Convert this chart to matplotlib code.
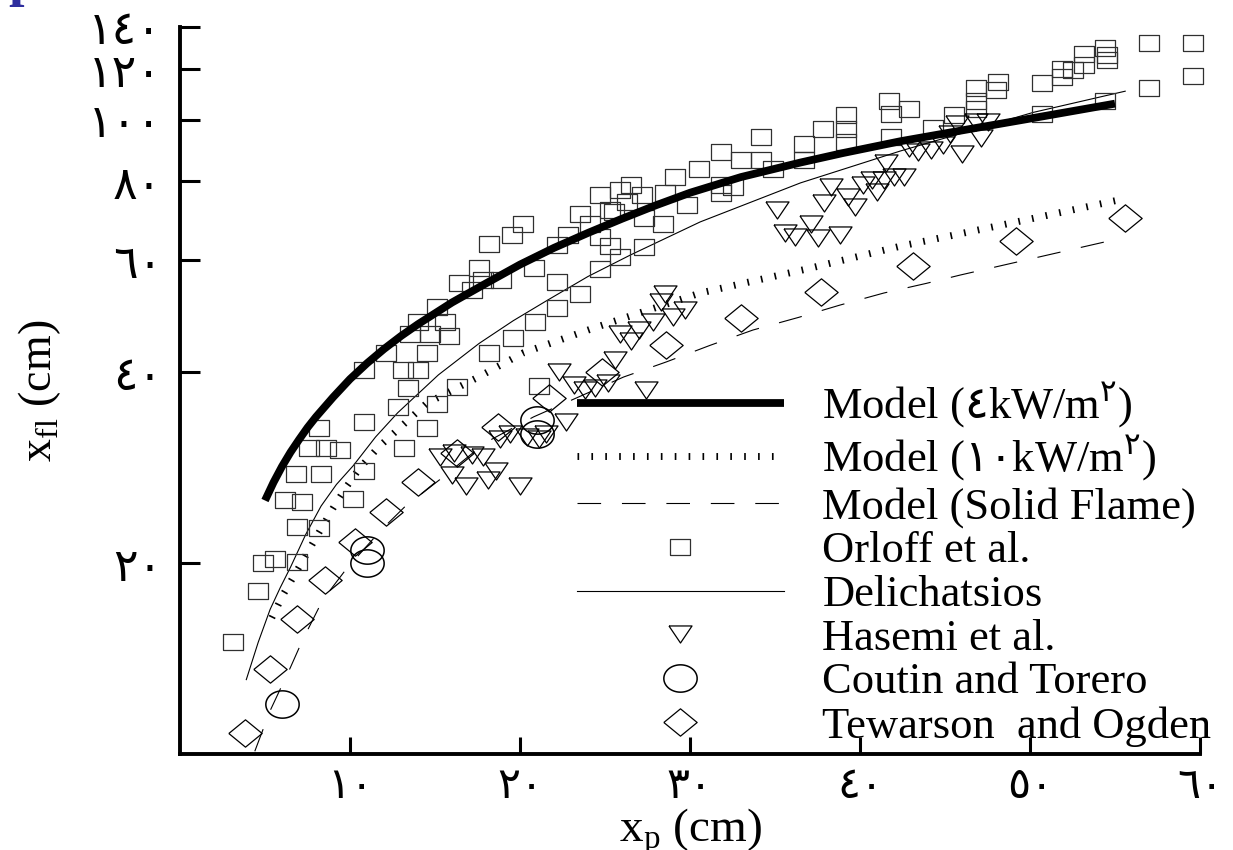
import numpy as np
import matplotlib
matplotlib.use("Agg")
import matplotlib.pyplot as plt
from matplotlib.ticker import NullLocator, FixedLocator, FixedFormatter
from matplotlib.font_manager import FontProperties

plt.rcParams['mathtext.fontset'] = 'dejavusans'
plt.rcParams['lines.scale_dashes'] = False

SERIF = ['Liberation Serif', 'DejaVu Sans']

# ---------------- data ----------------
x_ticks = [10, 20, 30, 40, 50, 60]
x_ticklabels = ['١٠', '٢٠', '٣٠', '٤٠', '٥٠', '٦٠']
y_ticks = [20, 40, 60, 80, 100, 120, 140]
y_ticklabels = ['٢٠', '٤٠', '٦٠', '٨٠', '١٠٠', '١٢٠', '١٤٠']

# Model (4 kW/m2)
model4_x = [5.0, 5.5, 6.0, 6.5, 7.0, 7.5, 8.0, 9.0, 10.0, 11.0, 12.0, 13.0, 14.0, 16.0, 18.0,
            20.0, 22.0, 24.0, 26.0, 28.0, 30.0, 33.0, 36.5, 39.0, 42.4, 46.3, 50.0, 55.0]
model4_y = [25.1, 26.8, 28.4, 29.9, 31.3, 32.7, 34.0, 36.5, 39.0, 41.3, 43.5, 45.6, 47.6, 51.5, 55.2,
            59.1, 62.8, 66.3, 69.8, 73.3, 76.7, 81.2, 85.6, 88.6, 92.5, 96.5, 100.4, 106.0]

# Model (10 kW/m2)
model10_x = [5.4, 6.1, 7.9, 9.0, 9.8, 10.6, 11.7, 14.5, 17.4, 20.2, 24.4, 30.6, 36.8, 42.4, 45.2, 50.2, 55.2]
model10_y = [16.4, 17.9, 21.7, 24.4, 26.4, 28.3, 30.5, 35.7, 39.1, 42.9, 47.0, 53.3, 58.1, 63.2, 65.5, 69.9, 74.7]

# Model (Solid Flame)
flame_x = [4.4, 5.3, 6.5, 7.2, 8.4, 9.8, 11.8, 13.2, 15.3, 18.0, 20.8, 23.4, 26.1, 28.6, 31.2, 33.7, 36.4, 38.8, 41.4, 43.9, 45.9, 55.1]
flame_y = [10.1, 11.7, 13.7, 15.1, 17.5, 19.6, 22.5, 24.5, 27.1, 31.0, 34.0, 36.5, 39.3, 41.5, 44.1, 46.6, 48.8, 51.0, 53.3, 55.2, 56.9, 64.8]

# Delichatsios
delich_x = [3.9, 4.6, 5.3, 5.9, 6.5, 7.4, 8.3, 9.2, 10.2, 11.5, 12.8, 15.2, 17.6, 19.6, 21.6, 24.0,
            26.5, 30.6, 36.5, 42.4, 50.2, 55.6]
delich_y = [13.1, 15.0, 16.9, 18.3, 19.7, 22.2, 24.6, 26.6, 28.5, 31.6, 34.5, 39.6, 44.4, 48.2, 51.9, 56.6,
            61.2, 69.0, 79.5, 89.3, 102.7, 110.9]

# Orloff et al. (x, y)
orloff_pts = [
    (3.1, 15.0), (4.6, 18.1), (4.9, 20.0), (5.6, 20.3), (6.9, 20.1), (6.9, 22.8), (8.2, 22.7),
    (6.2, 25.1), (7.2, 25.0), (10.2, 25.2), (6.8, 27.6), (8.3, 27.6), (10.8, 27.9), (7.6, 30.4),
    (8.6, 30.4), (9.4, 30.2), (13.2, 30.4), (8.2, 32.7), (10.8, 33.4), (14.5, 32.7), (12.8, 35.2),
    (15.1, 35.6), (16.3, 37.9), (21.1, 38.0), (13.4, 37.8), (13.1, 40.3), (14.0, 40.3), (10.8, 40.3),
    (14.5, 42.8), (12.1, 42.8), (18.2, 42.8), (19.6, 45.3), (20.9, 47.9), (22.2, 50.4), (23.5, 53.2),
    (24.7, 58.1), (25.9, 60.8), (13.5, 46.0), (14.7, 46.0), (15.8, 45.6), (14.0, 47.9), (15.6, 47.9),
    (15.1, 50.6), (16.4, 55.2), (17.2, 53.9), (17.6, 58.3), (17.8, 55.8), (18.9, 55.8), (18.2, 63.6),
    (19.5, 65.9), (20.2, 68.6), (20.8, 58.3), (22.2, 55.5), (22.8, 65.9), (22.2, 63.4), (23.5, 71.1),
    (24.7, 65.4), (25.3, 63.2), (24.1, 68.6), (25.3, 72.0), (24.7, 76.0), (25.5, 71.6), (25.9, 77.4),
    (26.5, 78.8), (26.3, 74.2), (27.2, 76.0), (27.3, 69.9), (27.3, 63.0), (28.4, 68.4), (28.5, 76.5),
    (29.1, 81.1), (29.8, 73.3), (30.5, 83.5), (31.8, 89.0), (31.8, 79.0), (31.8, 76.5), (32.5, 78.2),
    (33.0, 86.5), (34.2, 93.9), (34.2, 86.3), (34.9, 83.7), (36.7, 91.7), (36.7, 86.3), (37.8, 96.8),
    (39.2, 101.6), (39.2, 96.8), (39.2, 92.2), (41.8, 102.2), (42.9, 104.1), (41.8, 93.9), (44.3, 97.2),
    (41.7, 106.9), (45.5, 101.9), (46.8, 112.0), (46.8, 107.0), (46.8, 104.1), (48.1, 114.7),
    (48.0, 111.3), (50.7, 114.3), (50.7, 102.0), (51.9, 120.4), (51.9, 116.8), (52.5, 119.6),
    (53.2, 127.1), (53.2, 121.8), (54.4, 129.5), (54.5, 126.3), (54.5, 124.1), (54.4, 107.0),
    (57.0, 132.1), (59.6, 132.1), (59.6, 117.1), (57.0, 112.0),
]

# Hasemi et al. (x, y)
hasemi_pts = [
    (15.3, 29.4), (16.1, 29.8), (17.2, 29.6), (17.8, 29.4), (16.0, 27.5), (16.8, 26.5), (18.1, 27.0),
    (18.6, 27.9), (20.0, 26.5), (18.8, 31.4), (19.4, 32.0), (20.4, 31.6), (21.1, 31.4), (21.5, 32.0),
    (22.7, 33.4), (22.3, 40.0), (23.2, 38.2), (23.8, 37.5), (24.4, 37.7), (25.2, 38.4), (27.4, 37.5),
    (25.6, 41.8), (25.9, 46.0), (26.5, 44.8), (27.0, 46.6), (27.8, 47.9), (28.3, 51.6), (28.5, 53.2),
    (29.0, 48.9), (29.7, 50.1), (35.1, 72.0), (35.6, 66.2), (36.2, 65.4), (37.1, 68.6), (37.5, 65.0),
    (38.8, 65.8), (37.9, 73.8), (38.3, 78.2), (39.3, 75.6), (39.7, 72.9), (40.2, 78.8), (41.0, 76.9),
    (40.7, 80.3), (41.4, 80.3), (41.5, 85.5), (42.0, 81.2), (42.6, 81.2), (42.9, 90.1), (43.4, 89.0),
    (44.2, 89.5), (44.9, 91.1), (45.3, 95.1), (45.7, 98.6), (46.0, 88.4), (47.1, 93.4), (47.5, 99.2),
    (46.8, 99.2),
]

# Coutin and Torero (x, y)
coutin_pts = [(6.0, 12.0), (11.0, 21.0), (11.0, 20.0), (21.0, 33.6), (21.0, 32.0)]

# Tewarson and Ogden (x, y)
tewarson_pts = [
    (3.8, 10.8), (5.3, 13.6), (6.9, 16.3), (8.5, 18.8), (10.3, 21.6), (12.1, 24.1), (14.0, 26.8),
    (16.3, 29.8), (18.7, 32.8), (21.7, 36.4), (24.8, 40.0), (28.6, 44.1), (33.0, 48.6), (37.7, 53.5),
    (43.1, 58.8), (49.2, 64.4), (55.6, 70.1),
]

labels = [
    'Model ($\\mathrm{٤}$kW/m$^{\\mathrm{٢}}$)',
    'Model ($\\mathrm{١٠}$kW/m$^{\\mathrm{٢}}$)',
    'Model (Solid Flame)',
    'Orloff et al.',
    'Delichatsios',
    'Hasemi et al.',
    'Coutin and Torero',
    'Tewarson  and Ogden',
]

# ---------------- marker shapes (slightly wide, as in the source) ----------------
sq_marker = [(-1, -0.8), (1, -0.8), (1, 0.8), (-1, 0.8), (-1, -0.8)]
tri_marker = [(-1, 0.74), (1, 0.74), (0, -0.74), (-1, 0.74)]
dia_marker = [(-1, 0), (0, 0.82), (1, 0), (0, -0.82), (-1, 0)]
_t = np.linspace(0, 2 * np.pi, 73)
ell_marker = list(zip(np.cos(_t), 0.82 * np.sin(_t)))

# ---------------- figure ----------------
fig = plt.figure(figsize=(12.33, 8.5), dpi=100)
ax = fig.add_axes([180 / 1233, 96 / 850, 1020 / 1233, 727 / 850])
ax.set_yscale('log')
ax.set_xlim(0, 60)
ax.set_ylim(10, 140)

def unzip(pts):
    return [p[0] for p in pts], [p[1] for p in pts]

ox, oy = unzip(orloff_pts)
hx, hy = unzip(hasemi_pts)
cx, cy = unzip(coutin_pts)
tx, ty = unzip(tewarson_pts)

h_sq, = ax.plot(ox, oy, ls='none', marker=sq_marker, ms=14.4, mfc='none', mec='#303030',
                mew=0.9, clip_on=False, zorder=3)
h_tri, = ax.plot(hx, hy, ls='none', marker=tri_marker, ms=16.6, mfc='none', mec='black',
                 mew=0.9, clip_on=False, zorder=3)
h_circ, = ax.plot(cx, cy, ls='none', marker=ell_marker, ms=24, mfc='none', mec='black',
                  mew=1.1, clip_on=False, zorder=3)
h_dia, = ax.plot(tx, ty, ls='none', marker=dia_marker, ms=24, mfc='none', mec='black',
                 mew=0.9, clip_on=False, zorder=3)

h_del, = ax.plot(delich_x, delich_y, color='black', lw=0.8, zorder=2)
h_flame, = ax.plot(flame_x, flame_y, color='black', lw=0.8, dashes=(17, 15), zorder=2)
h_m10, = ax.plot(model10_x, model10_y, color='black', lw=5.0, dashes=(1.2, 8.8),
                 dash_capstyle='butt', zorder=2)
h_m4, = ax.plot(model4_x, model4_y, color='black', lw=5.6, solid_capstyle='butt',
                solid_joinstyle='round', zorder=4)

# ---------------- axes styling ----------------
for side in ('top', 'right'):
    ax.spines[side].set_visible(False)
for side in ('left', 'bottom'):
    ax.spines[side].set_linewidth(2.8)

ax.xaxis.set_major_locator(FixedLocator(x_ticks))
ax.xaxis.set_major_formatter(FixedFormatter(x_ticklabels))
ax.yaxis.set_major_locator(FixedLocator(y_ticks))
ax.yaxis.set_major_formatter(FixedFormatter(y_ticklabels))
ax.yaxis.set_minor_locator(NullLocator())
ax.xaxis.set_minor_locator(NullLocator())

ax.tick_params(axis='both', direction='in', width=2.2, color='black')
ax.tick_params(axis='y', length=14.5, pad=13)
ax.tick_params(axis='x', length=12.5, pad=8)
for lab in ax.get_yticklabels():
    lab.set_fontfamily(['DejaVu Sans'])
    lab.set_fontsize(33)
for lab in ax.get_xticklabels():
    lab.set_fontfamily(['DejaVu Sans'])
    lab.set_fontsize(31)

ax.set_xlabel('x$_{\\mathregular{p}}$ (cm)', fontfamily=SERIF, fontsize=34)
ax.set_ylabel('x$_{\\mathregular{fl}}$ (cm)', fontfamily=SERIF, fontsize=33)
ax.xaxis.set_label_coords(0.5, -0.072)
ax.yaxis.set_label_coords(-0.1147, 0.5)

leg = ax.legend(handles=[h_m4, h_m10, h_flame, h_sq, h_del, h_tri, h_circ, h_dia],
                labels=labels, loc='upper left', bbox_to_anchor=(397 / 1020, (754 - 381) / 727),
                frameon=False, prop=FontProperties(family=SERIF, size=32),
                handlelength=4.65, handletextpad=0.87, labelspacing=0.08,
                borderpad=0, borderaxespad=0, numpoints=1)

# partially visible blue glyph at the very top-left of the source image
fig.text(0.0065, 1.006, 'p', color='#2E2E9E', fontsize=40, fontfamily=SERIF,
         fontweight='bold', va='baseline', ha='left')

fig.savefig('out.png', dpi=100)
